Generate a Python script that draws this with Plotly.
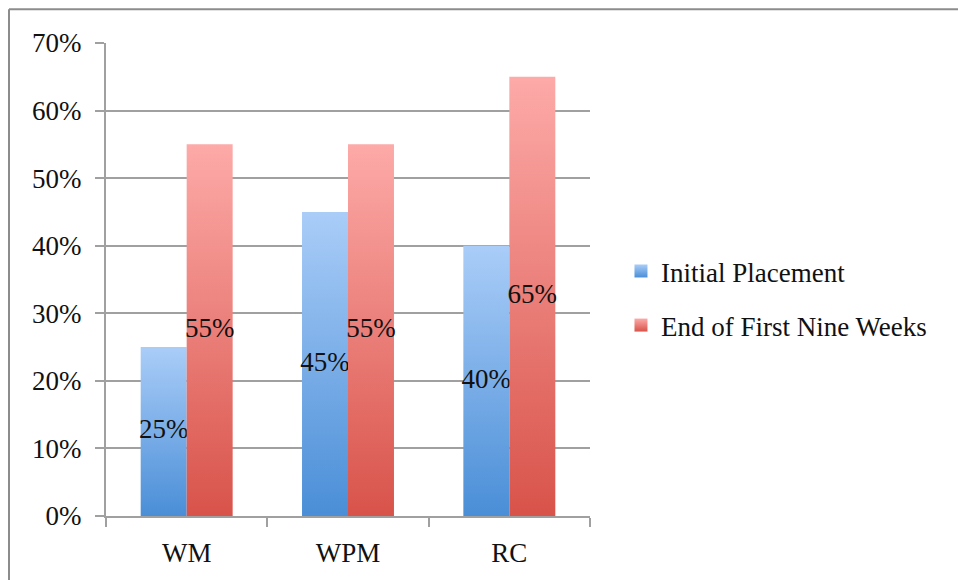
import plotly.graph_objects as go

# Chart data
categories = ["WM", "WPM", "RC"]
initial_placement = [0.25, 0.45, 0.40]
end_first_nine_weeks = [0.55, 0.55, 0.65]
series_names = ["Initial Placement", "End of First Nine Weeks"]
y_ticks = [0.0, 0.1, 0.2, 0.3, 0.4, 0.5, 0.6, 0.7]

# Styling
FONT = "Liberation Serif"
FONT_SIZE = 27
BAR_W = 0.285  # width of one bar in category units
BLUE = ("#4a8ed7", "#aacdf8")   # bottom, top
RED = ("#d8534a", "#fdaaa8")
GRID = "#a0a0a0"

fig = go.Figure()

series = [
    (series_names[0], initial_placement, -1, BLUE),
    (series_names[1], end_first_nine_weeks, 0, RED),
]

for name, values, side, (c_bot, c_top) in series:
    for i, v in enumerate(values):
        x0 = i + side * BAR_W
        x1 = x0 + BAR_W
        # each bar is a filled rectangle with a vertical gradient
        fig.add_trace(go.Scatter(
            x=[x0, x1, x1, x0, x0],
            y=[0, 0, v, v, 0],
            mode="lines",
            line=dict(width=0),
            fill="toself",
            fillgradient=dict(type="vertical",
                              colorscale=[[0, c_bot], [1, c_top]]),
            showlegend=False,
            hoverinfo="skip",
        ))
    # value labels centred in each bar
    fig.add_trace(go.Scatter(
        x=[i + side * BAR_W + BAR_W / 2 for i in range(len(values))],
        y=[v / 2 for v in values],
        mode="text",
        text=[f"{round(v * 100)}%" for v in values],
        textfont=dict(family=FONT, size=FONT_SIZE, color="#111111"),
        textposition="middle center",
        showlegend=False,
        hoverinfo="skip",
    ))

# legend entries
for k, (name, values, side, (c_bot, c_top)) in enumerate(series):
    fig.add_trace(go.Scatter(
        x=[None], y=[None],
        mode="markers",
        name=name,
        legendgroup=f"g{k}",
        marker=dict(symbol="square", size=13, color=c_top,
                    gradient=dict(type="vertical", color=c_bot),
                    line=dict(width=0)),
    ))

# outer frame lines
frame = dict(color="#8c8c8c", width=2)
fig.add_shape(type="line", xref="paper", yref="paper",
              x0=-0.2004, x1=1.8, y0=1.0716, y1=1.0716, line=frame)
fig.add_shape(type="line", xref="paper", yref="paper",
              x0=-0.2004, x1=-0.2004, y0=1.0716, y1=-0.2, line=frame)

fig.update_layout(
    width=958, height=580,
    margin=dict(l=106, r=368, t=43, b=62),
    plot_bgcolor="white", paper_bgcolor="white",
    font=dict(family=FONT, size=FONT_SIZE, color="#111111"),
    showlegend=True,
    legend=dict(
        x=1.064, xanchor="left", y=0.46, yanchor="middle",
        font=dict(family=FONT, size=FONT_SIZE, color="#111111"),
        tracegroupgap=16,
        bgcolor="rgba(0,0,0,0)",
    ),
    xaxis=dict(
        range=[-0.5, 2.5],
        tickmode="array",
        tickvals=list(range(len(categories))),
        ticktext=categories,
        ticks="",
        showgrid=False,
        zeroline=False,
        showline=True, linecolor=GRID, linewidth=2,
        ticklabelstandoff=12,
        minor=dict(tickmode="array", tickvals=[-0.5, 0.5, 1.5, 2.5],
                   ticks="outside", ticklen=9, tickwidth=2,
                   tickcolor=GRID, showgrid=False),
        fixedrange=True,
    ),
    yaxis=dict(
        range=[0, 0.7],
        tickmode="array",
        tickvals=y_ticks,
        tickformat=".0%",
        ticks="outside", ticklen=9, tickwidth=2, tickcolor=GRID,
        showgrid=True, gridcolor=GRID, gridwidth=2,
        zeroline=False,
        showline=True, linecolor=GRID, linewidth=2,
        ticklabelstandoff=8,
        fixedrange=True,
    ),
)

fig.write_html("out.html")
